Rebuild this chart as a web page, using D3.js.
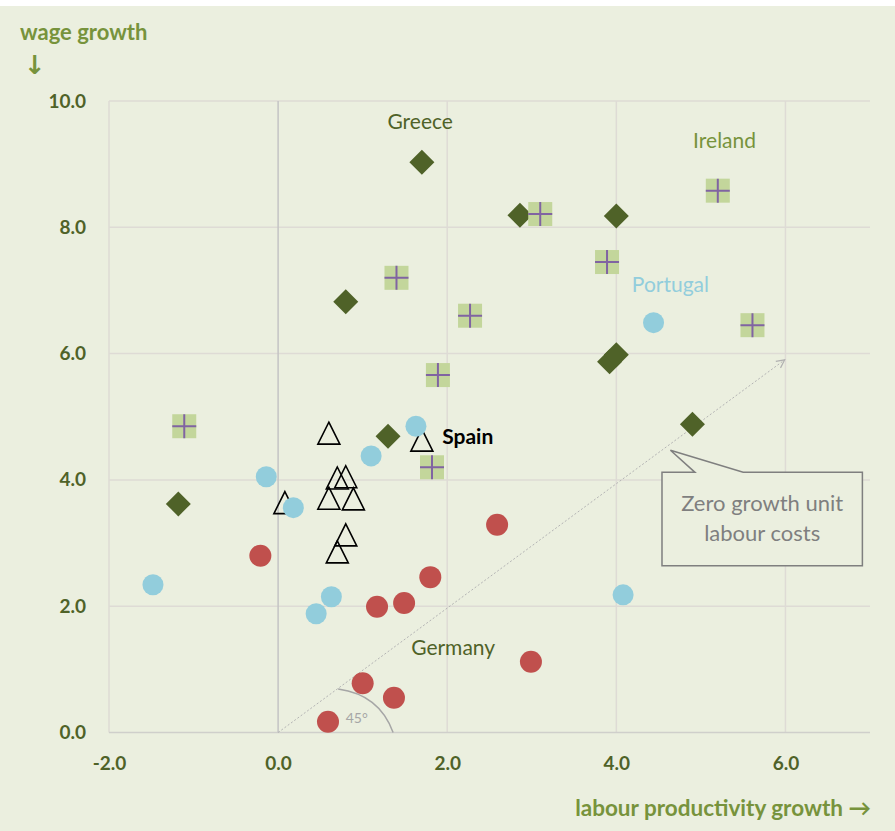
<!DOCTYPE html>
<html>
<head>
<meta charset="utf-8">
<script src="https://cdn.jsdelivr.net/npm/d3@7"></script>
<style>
    body { margin: 0; background: #fff; }
    svg { display: block; }
    text { font-family: Lato, "Open Sans", sans-serif; }
</style>
</head>
<body>
<div id="chart"></div>
<script>
// values: [labour productivity growth, wage growth]
const greece = [[1.70, 9.03], [2.86, 8.19], [4.00, 8.18], [0.80, 6.82], [3.92, 5.87],
    [4.00, 5.98], [1.30, 4.69], [4.90, 4.88], [-1.18, 3.62]];
const ireland = [[5.20, 8.58], [3.10, 8.21], [1.40, 7.20], [3.89, 7.45], [2.27, 6.60],
    [5.61, 6.45], [1.89, 5.66], [-1.11, 4.85], [1.82, 4.20]];
const portugal = [[4.44, 6.49], [1.63, 4.85], [1.10, 4.38], [-0.14, 4.05], [0.18, 3.56],
    [-1.48, 2.34], [0.63, 2.15], [0.45, 1.88], [4.08, 2.18]];
const germany = [[-0.21, 2.80], [2.59, 3.29], [1.80, 2.46], [1.17, 1.99], [1.49, 2.05],
    [2.99, 1.12], [1.00, 0.78], [1.37, 0.55], [0.59, 0.17]];
const spain = [[0.60, 4.74], [1.70, 4.63], [0.70, 4.03], [0.80, 4.05], [0.08, 3.64],
    [0.60, 3.71], [0.89, 3.70], [0.80, 3.13], [0.70, 2.86]];

const xTicks = [-2, 0, 2, 4, 6];
const yTicks = [0, 2, 4, 6, 8, 10];

const W = 895, H = 831;
const BG = "#ebefdf";
const GRID = "#dedbd5";
const TICKCOLOR = "#4f6228";
const TITLECOLOR = "#77933c";

let svg = d3.select("#chart").append("svg")
    .attr("width", W)
    .attr("height", H);

svg.append("rect")
    .attr("x", 0).attr("y", 6)
    .attr("width", W).attr("height", H - 6)
    .attr("fill", BG);

let x = d3.scaleLinear().domain([-2, 7]).range([109, 870]);
let y = d3.scaleLinear().domain([0, 10]).range([732.5, 101]);

// grid
let grid = svg.append("g");
grid.selectAll(".gy")
    .data(yTicks.filter(d => d > 0))
    .join("line")
    .attr("x1", x(-2)).attr("x2", x(7))
    .attr("y1", d => y(d)).attr("y2", d => y(d))
    .attr("stroke", GRID).attr("stroke-width", 1.5);
grid.selectAll(".gx")
    .data(xTicks.filter(d => d !== 0))
    .join("line")
    .attr("x1", d => x(d)).attr("x2", d => x(d))
    .attr("y1", y(0)).attr("y2", y(10))
    .attr("stroke", GRID).attr("stroke-width", 1.5);

// zero lines
svg.append("line")
    .attr("x1", x(-2)).attr("x2", x(7))
    .attr("y1", y(0)).attr("y2", y(0))
    .attr("stroke", "#cfcfcb").attr("stroke-width", 1.5);
svg.append("line")
    .attr("x1", x(0)).attr("x2", x(0))
    .attr("y1", y(0)).attr("y2", y(10))
    .attr("stroke", "#c4c4c4").attr("stroke-width", 1.5);

// axes: only labels, no domain or ticks
let fmt = d => d.toFixed(1);
let xAxis = svg.append("g")
    .attr("transform", "translate(0," + (y(0) + 20) + ")")
    .call(d3.axisBottom(x).tickValues(xTicks).tickSize(0).tickFormat(fmt));
let yAxis = svg.append("g")
    .attr("transform", "translate(" + (x(-2) - 20) + ",0)")
    .call(d3.axisLeft(y).tickValues(yTicks).tickSize(0).tickFormat(fmt));
[xAxis, yAxis].forEach(a => {
    a.select(".domain").remove();
    a.selectAll("text")
        .attr("fill", TICKCOLOR)
        .style("font-family", "Lato")
        .style("font-weight", "bold")
        .style("font-size", "19px");
});
xAxis.selectAll("text").attr("dy", "0.75em");

// 45 degree reference line with arrow
svg.append("defs").append("marker")
    .attr("id", "arr")
    .attr("viewBox", "0 0 10 10")
    .attr("refX", 9).attr("refY", 5)
    .attr("markerWidth", 10).attr("markerHeight", 10)
    .attr("markerUnits", "userSpaceOnUse")
    .attr("orient", "auto")
    .append("path")
    .attr("d", "M1,1 L9,5 L1,9")
    .attr("fill", "none")
    .attr("stroke", "#b0b0b0")
    .attr("stroke-width", 1.2);

svg.append("line")
    .attr("x1", x(0)).attr("y1", y(0))
    .attr("x2", x(5.99)).attr("y2", y(5.9))
    .attr("stroke", "#b4b4b4")
    .attr("stroke-width", 1)
    .attr("stroke-dasharray", "2,2")
    .attr("marker-end", "url(#arr)");

svg.append("path")
    .attr("d", "M" + x(0.71) + "," + y(0.69) + " Q" + x(1.2) + "," + y(0.6) + " " + x(1.36) + "," + y(0))
    .attr("fill", "none")
    .attr("stroke", "#a6a6a6")
    .attr("stroke-width", 1.5);

svg.append("text")
    .text("45°")
    .attr("x", x(0.93)).attr("y", y(0.23))
    .attr("dy", "0.35em")
    .attr("text-anchor", "middle")
    .attr("fill", "#a6a6a6")
    .style("font-size", "14px");

// markers
let triangle = "M0,-11 L11,11 L-11,11 Z";
let diamond = "M0,-12.5 L12.5,0 L0,12.5 L-12.5,0 Z";

svg.append("g").selectAll("path")
    .data(spain)
    .join("path")
    .attr("transform", d => "translate(" + x(d[0]) + "," + y(d[1]) + ")")
    .attr("d", triangle)
    .attr("fill", "none")
    .attr("stroke", "#000")
    .attr("stroke-width", 1.6);

svg.append("g").selectAll("path")
    .data(greece)
    .join("path")
    .attr("transform", d => "translate(" + x(d[0]) + "," + y(d[1]) + ")")
    .attr("d", diamond)
    .attr("fill", "#4f6228");

let irl = svg.append("g").selectAll("g")
    .data(ireland)
    .join("g")
    .attr("transform", d => "translate(" + x(d[0]) + "," + y(d[1]) + ")");
irl.append("rect")
    .attr("x", -12).attr("y", -12)
    .attr("width", 24).attr("height", 24)
    .attr("fill", "#c3d69b");
irl.append("path")
    .attr("d", "M-12,0 H12 M0,-12 V12")
    .attr("stroke", "#8064a2")
    .attr("stroke-width", 2);

svg.append("g").selectAll("circle")
    .data(portugal)
    .join("circle")
    .attr("cx", d => x(d[0])).attr("cy", d => y(d[1]))
    .attr("r", 10.5)
    .attr("fill", "#92cddc");

svg.append("g").selectAll("circle")
    .data(germany)
    .join("circle")
    .attr("cx", d => x(d[0])).attr("cy", d => y(d[1]))
    .attr("r", 11)
    .attr("fill", "#c0504d");

// country labels
function label(txt, lx, ly, color, anchor, weight) {
    svg.append("text")
        .text(txt)
        .attr("x", x(lx)).attr("y", y(ly))
        .attr("dy", "0.35em")
        .attr("text-anchor", anchor)
        .attr("fill", color)
        .style("font-size", "21px")
        .style("font-weight", weight || "normal");
}
label("Greece", 1.68, 9.67, "#4f6228", "middle");
label("Ireland", 5.28, 9.37, "#77933c", "middle");
label("Portugal", 4.64, 7.09, "#92cddc", "middle");
label("Spain", 1.94, 4.68, "#000", "start", "bold");
label("Germany", 2.07, 1.34, "#4f6228", "middle");

// axis titles
svg.append("text")
    .text("wage growth")
    .attr("x", 20).attr("y", 40)
    .attr("fill", TITLECOLOR)
    .style("font-size", "22px")
    .style("font-weight", "bold");
svg.append("text")
    .text("↓")
    .attr("x", 35).attr("y", 74)
    .attr("text-anchor", "middle")
    .attr("fill", TITLECOLOR)
    .style("font-family", "DejaVu Sans")
    .style("font-size", "26px")
    .style("font-weight", "bold");
svg.append("text")
    .text("labour productivity growth →")
    .attr("x", 871).attr("y", 816)
    .attr("text-anchor", "end")
    .attr("fill", TITLECOLOR)
    .style("font-size", "22.5px")
    .style("font-weight", "bold");

// callout
let bx0 = x(4.54), bx1 = x(6.91), by0 = y(4.12), by1 = y(2.64);
let tipX = x(4.64), tipY = y(4.47), p0 = x(4.93), p1 = x(5.50);
svg.append("path")
    .attr("d", "M" + bx0 + "," + by0 + " H" + p0 + " L" + tipX + "," + tipY + " L" + p1 + "," + by0 +
        " H" + bx1 + " V" + by1 + " H" + bx0 + " Z")
    .attr("fill", BG)
    .attr("stroke", "#7f7f7f")
    .attr("stroke-width", 1.5);
svg.append("text")
    .attr("x", (bx0 + bx1) / 2).attr("y", by0 + 31)
    .attr("dy", "0.35em")
    .attr("text-anchor", "middle")
    .attr("fill", "#7f7f7f")
    .style("font-size", "22px")
    .text("Zero growth unit");
svg.append("text")
    .attr("x", (bx0 + bx1) / 2).attr("y", by0 + 61)
    .attr("dy", "0.35em")
    .attr("text-anchor", "middle")
    .attr("fill", "#7f7f7f")
    .style("font-size", "22px")
    .text("labour costs");
</script>
</body>
</html>
